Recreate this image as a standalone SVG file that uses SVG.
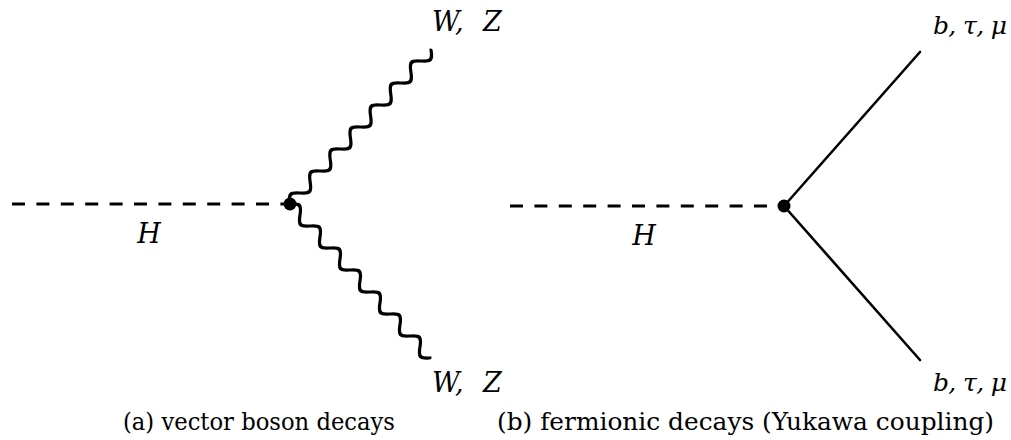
<svg xmlns="http://www.w3.org/2000/svg" width="1011" height="440" viewBox="0 0 1011 440">
<defs>
<style>
.bg{fill:#fff}
.dash{stroke:#000;stroke-width:3;stroke-dasharray:13 11.4;fill:none}
.line{stroke:#000;stroke-width:2.6;fill:none;stroke-linecap:round}
.wave{stroke:#000;stroke-width:0.6;fill:none;stroke-linecap:round}
.vtx{fill:#000}
.lbl{font-family:'DejaVu Serif','Liberation Serif',serif;font-style:italic;font-size:27px;fill:#000}
.lbl2{font-family:'DejaVu Serif','Liberation Serif',serif;font-style:italic;font-size:25px;fill:#000}
.cap{font-family:'DejaVu Serif','Liberation Serif',serif;font-size:24.5px;fill:#000}
</style>
<path id="wv" d="M0 0c0.5123 0.5123 1.0023 1 1.5708 1c0.5685 0 1.0585 -0.4877 1.5708 -1c0.5123 -0.5123 1.0023 -1 1.5708 -1c0.5685 0 1.0585 0.4877 1.5708 1c0.5123 0.5123 1.0023 1 1.5708 1c0.5685 0 1.0585 -0.4877 1.5708 -1c0.5123 -0.5123 1.0023 -1 1.5708 -1c0.5685 0 1.0585 0.4877 1.5708 1c0.5123 0.5123 1.0023 1 1.5708 1c0.5685 0 1.0585 -0.4877 1.5708 -1c0.5123 -0.5123 1.0023 -1 1.5708 -1c0.5685 0 1.0585 0.4877 1.5708 1c0.5123 0.5123 1.0023 1 1.5708 1c0.5685 0 1.0585 -0.4877 1.5708 -1c0.5123 -0.5123 1.0023 -1 1.5708 -1c0.5685 0 1.0585 0.4877 1.5708 1c0.5123 0.5123 1.0023 1 1.5708 1c0.5685 0 1.0585 -0.4877 1.5708 -1c0.5123 -0.5123 1.0023 -1 1.5708 -1c0.5685 0 1.0585 0.4877 1.5708 1c0.5123 0.5123 1.0023 1 1.5708 1c0.5685 0 1.0585 -0.4877 1.5708 -1c0.5123 -0.5123 1.0023 -1 1.5708 -1c0.5685 0 1.0585 0.4877 1.5708 1c0.5123 0.5123 1.0023 1 1.5708 1c0.5685 0 1.0585 -0.4877 1.5708 -1c0.5123 -0.5123 1.0023 -1 1.5708 -1c0.5685 0 1.0585 0.4877 1.5708 1"/>
</defs>
<rect class="bg" x="0" y="0" width="1011" height="440"/>
<g id="connectors">
<line class="dash" x1="12" y1="204" x2="290" y2="204"/>
<use href="#wv" class="wave" transform="translate(290,204) rotate(-47.52) scale(4.748,-6)"/>
<use href="#wv" class="wave" transform="translate(290,204) rotate(47.73) scale(4.731,-6)"/>
<line class="dash" x1="510" y1="206" x2="784" y2="206"/>
<line class="line" x1="784" y1="206" x2="920" y2="52"/>
<line class="line" x1="784" y1="206" x2="920" y2="360"/>
</g>
<g id="vertex-a"><circle class="vtx" cx="290" cy="204" r="6.5"/></g>
<g id="vertex-b"><circle class="vtx" cx="784" cy="206" r="6.5"/></g>
<g id="label-H-a"><text class="lbl" x="149" y="243" text-anchor="middle">H</text></g>
<g id="label-H-b"><text class="lbl" x="644" y="245" text-anchor="middle">H</text></g>
<g id="label-WZ-top"><text class="lbl" x="432" y="31"><tspan>W,</tspan><tspan x="483">Z</tspan></text></g>
<g id="label-WZ-bottom"><text class="lbl" x="432" y="392"><tspan>W,</tspan><tspan x="483">Z</tspan></text></g>
<g id="label-f-top"><text class="lbl2" x="933" y="34" textLength="74" lengthAdjust="spacing">b, τ, μ</text></g>
<g id="label-f-bottom"><text class="lbl2" x="933" y="391" textLength="74" lengthAdjust="spacing">b, τ, μ</text></g>
<g id="caption-a"><text class="cap" x="123" y="430" textLength="272" lengthAdjust="spacingAndGlyphs">(a) vector boson decays</text></g>
<g id="caption-b"><text class="cap" x="497" y="430" textLength="497" lengthAdjust="spacingAndGlyphs">(b) fermionic decays (Yukawa coupling)</text></g>
</svg>
